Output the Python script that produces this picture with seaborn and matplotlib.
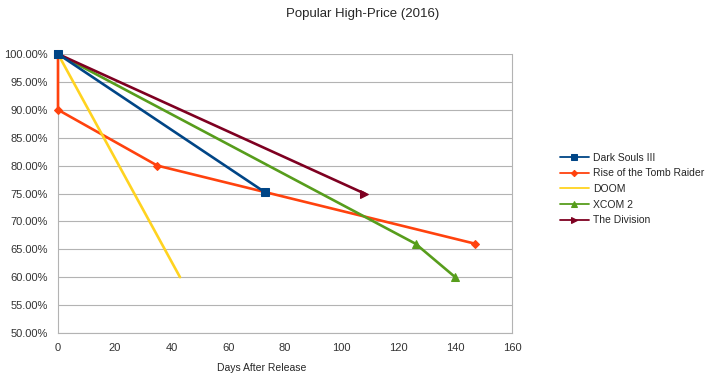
import pandas as pd
import matplotlib
matplotlib.use('Agg')
import matplotlib.pyplot as plt
import seaborn as sns

# Data (days after release, % of launch price)
games = ['Dark Souls III', 'Rise of the Tomb Raider', 'DOOM', 'XCOM 2', 'The Division']
ds3_days = [0, 73]
ds3_pct = [100, 75.2]
rotr_days = [0, 0, 35, 147]
rotr_pct = [100, 90, 80, 66]
doom_days = [0, 43]
doom_pct = [100, 60]
xcom_days = [0, 126, 140]
xcom_pct = [100, 66, 60]
div_days = [0, 108]
div_pct = [100, 75]

x_ticks = [0, 20, 40, 60, 80, 100, 120, 140, 160]
y_ticks = [50, 55, 60, 65, 70, 75, 80, 85, 90, 95, 100]

colors = ['#004586', '#ff420e', '#ffd320', '#579d1c', '#7e0021']
markers = ['s', 'D', None, '^', '>']
msizes = [6, 4, 0, 5.5, 5.5]
zorders = [4, 3, 3, 3, 3]

series = [(ds3_days, ds3_pct), (rotr_days, rotr_pct), (doom_days, doom_pct),
          (xcom_days, xcom_pct), (div_days, div_pct)]

sns.set_style('white')
plt.rcParams['font.family'] = ['Liberation Sans', 'DejaVu Sans']

fig = plt.figure(figsize=(7.2, 3.78), dpi=100)
ax = fig.add_axes([58 / 720, 1 - 333 / 378, (512 - 58) / 720, (333 - 54) / 378])

for name, (d, p), c, m, ms, z in zip(games, series, colors, markers, msizes, zorders):
    df = pd.DataFrame({'days': d, 'pct': p})
    sns.lineplot(data=df, x='days', y='pct', ax=ax, color=c, marker=m,
                 markersize=ms, markeredgecolor=c, linewidth=1.9,
                 estimator=None, sort=False, label=name, clip_on=False,
                 zorder=z)

ax.set_xlim(0, 160)
ax.set_ylim(50, 100)
ax.set_xticks(x_ticks)
ax.set_yticks(y_ticks)
ax.set_yticklabels([f'{v:.2f}%' for v in y_ticks])
ax.tick_params(labelsize=8, colors='#b3b3b3', labelcolor='#333333',
               length=4, width=0.8, direction='out')
ax.set_xlabel('')
ax.set_ylabel('')
ax.yaxis.grid(True, color='#b3b3b3', linewidth=0.8)
ax.set_axisbelow(True)
for side in ['left', 'bottom', 'right']:
    ax.spines[side].set_color('#b3b3b3')
    ax.spines[side].set_linewidth(0.8)
ax.spines['top'].set_visible(False)

fig.text(363 / 720, 1 - 14 / 378, 'Popular High-Price (2016)', ha='center',
         va='center', fontsize=9.5)
fig.text(262 / 720, 1 - 368 / 378, 'Days After Release', ha='center',
         va='center', fontsize=7.5)

leg = ax.legend(loc='center left', bbox_to_anchor=(551 / 720, 1 - 189 / 378),
                bbox_transform=fig.transFigure, frameon=False, fontsize=7.5,
                handlelength=2.7, labelspacing=0.55, handletextpad=0.45,
                markerscale=0.8)
for h in leg.get_lines():
    h.set_linewidth(1.3)

fig.savefig('out.png', dpi=100)
